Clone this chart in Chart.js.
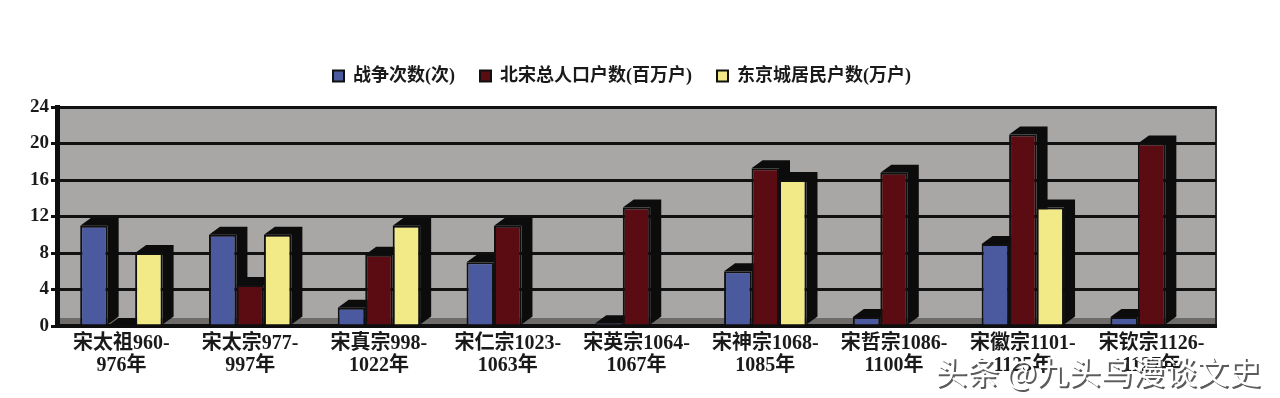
<!DOCTYPE html>
<html>
<head>
<meta charset="utf-8">
<script src="https://cdn.jsdelivr.net/npm/chart.js@4/dist/chart.umd.min.js"></script>
<style>
  html, body { margin: 0; padding: 0; background: #ffffff; }
  #wrap { width: 1280px; height: 398px; }
</style>
</head>
<body>
<div id="wrap"><canvas id="reignChart" width="1280" height="398"></canvas></div>
<script>
// categories (two-line labels)
const reigns = [
  ["宋太祖960-", "976年"],
  ["宋太宗977-", "997年"],
  ["宋真宗998-", "1022年"],
  ["宋仁宗1023-", "1063年"],
  ["宋英宗1064-", "1067年"],
  ["宋神宗1068-", "1085年"],
  ["宋哲宗1086-", "1100年"],
  ["宋徽宗1101-", "1125年"],
  ["宋钦宗1126-", "1127年"]
];

// series values
const warCounts = [11, 10, 2, 7, 0.3, 6, 1, 9, 1];
const totalHouseholds = [0, 4.5, 7.8, 11, 13, 17.3, 16.8, 21, 20];
const kaifengHouseholds = [8, 10, 11, null, null, 16, null, 13, null];

const seriesNames = ["战争次数(次)", "北宋总人口户数(百万户)", "东京城居民户数(万户)"];
const yTicks = [0, 4, 8, 12, 16, 20, 24];

const labelFont = '"Liberation Serif", "Noto Sans CJK SC", serif';

// extra room between legend and plot
const legendGap = {
  id: "legendGap",
  beforeInit(chart) {
    const fit = chart.legend.fit;
    chart.legend.fit = function () {
      fit.bind(chart.legend)();
      this.height += 12;
    };
  }
};

// gray back wall + dark floor / left wall
const wallPlugin = {
  id: "wall",
  beforeDraw(chart) {
    const { ctx, chartArea: a } = chart;
    ctx.save();
    ctx.fillStyle = "#a9a7a5";
    ctx.fillRect(a.left, a.top, a.right - a.left, a.bottom - a.top);
    ctx.fillStyle = "#6e6c6a";
    ctx.fillRect(a.left, a.bottom - 8, a.right - a.left, 8);
    ctx.strokeStyle = "#2a2a2a";
    ctx.lineWidth = 2;
    ctx.strokeRect(a.left, a.top, a.right - a.left, a.bottom - a.top);
    ctx.restore();
  }
};

// fake depth behind every bar (right side + top face)
const depthPlugin = {
  id: "depth",
  beforeDatasetsDraw(chart) {
    const { ctx } = chart;
    const dx = 11, dy = 8;
    ctx.save();
    chart.data.datasets.forEach((ds, i) => {
      chart.getDatasetMeta(i).data.forEach((bar, j) => {
        if (ds.data[j] === null || ds.data[j] === undefined) return;
        const p = bar.getProps(["x", "y", "base", "width"], true);
        const l = p.x - p.width / 2, r = p.x + p.width / 2;
        ctx.fillStyle = "#0c0c0c";
        ctx.beginPath();
        ctx.moveTo(l, p.y);
        ctx.lineTo(l + dx, p.y - dy);
        ctx.lineTo(r + dx, p.y - dy);
        ctx.lineTo(r + dx, p.base - dy);
        ctx.lineTo(r, p.base);
        ctx.lineTo(r, p.y);
        ctx.closePath();
        ctx.fill();
      });
    });
    ctx.restore();
  }
};

// watermark in the lower right corner
const markPlugin = {
  id: "mark",
  afterDraw(chart) {
    const { ctx } = chart;
    ctx.save();
    ctx.font = '32px "Noto Sans CJK SC", sans-serif';
    ctx.textBaseline = "alphabetic";
    ctx.fillStyle = "rgba(50,50,50,0.8)";
    ctx.fillText("头条 @九头鸟漫谈文史", 937, 386);
    ctx.fillStyle = "#ffffff";
    ctx.fillText("头条 @九头鸟漫谈文史", 935, 384);
    ctx.restore();
  }
};

const ctx = document.getElementById("reignChart").getContext("2d");

new Chart(ctx, {
  type: "bar",
  data: {
    labels: reigns,
    datasets: [
      {
        label: seriesNames[0],
        data: warCounts,
        backgroundColor: "#4b5a9e",
        borderColor: "#101010",
        borderWidth: 2
      },
      {
        label: seriesNames[1],
        data: totalHouseholds,
        backgroundColor: "#5a0c12",
        borderColor: "#101010",
        borderWidth: 2
      },
      {
        label: seriesNames[2],
        data: kaifengHouseholds,
        backgroundColor: "#f2ea86",
        borderColor: "#101010",
        borderWidth: 2
      }
    ]
  },
  options: {
    responsive: false,
    animation: false,
    layout: { padding: { left: 28, right: 64, top: 42, bottom: 14 } },
    datasets: {
      bar: { barPercentage: 1, categoryPercentage: 0.64 }
    },
    plugins: {
      tooltip: { enabled: false },
      legend: {
        position: "top",
        labels: {
          font: { family: labelFont, size: 18, weight: "bold" },
          color: "#1a1a1a",
          boxWidth: 11,
          boxHeight: 11,
          padding: 25
        }
      }
    },
    scales: {
      x: {
        grid: { display: false, drawTicks: false, tickLength: 0 },
        border: { color: "#0e0e0e", width: 4 },
        ticks: {
          font: { family: labelFont, size: 20, weight: "bold", lineHeight: 1.1 },
          color: "#1a1a1a",
          maxRotation: 0,
          autoSkip: false,
          padding: 7
        }
      },
      y: {
        min: 0,
        max: 24,
        afterBuildTicks(axis) {
          axis.ticks = yTicks.map(v => ({ value: v }));
        },
        grid: { color: "#111111", lineWidth: 3, drawTicks: true, tickLength: 6 },
        border: { color: "#0e0e0e", width: 5 },
        ticks: {
          font: { family: labelFont, size: 19, weight: "bold" },
          color: "#1a1a1a",
          padding: 2
        }
      }
    }
  },
  plugins: [legendGap, wallPlugin, depthPlugin, markPlugin]
});
</script>
</body>
</html>
